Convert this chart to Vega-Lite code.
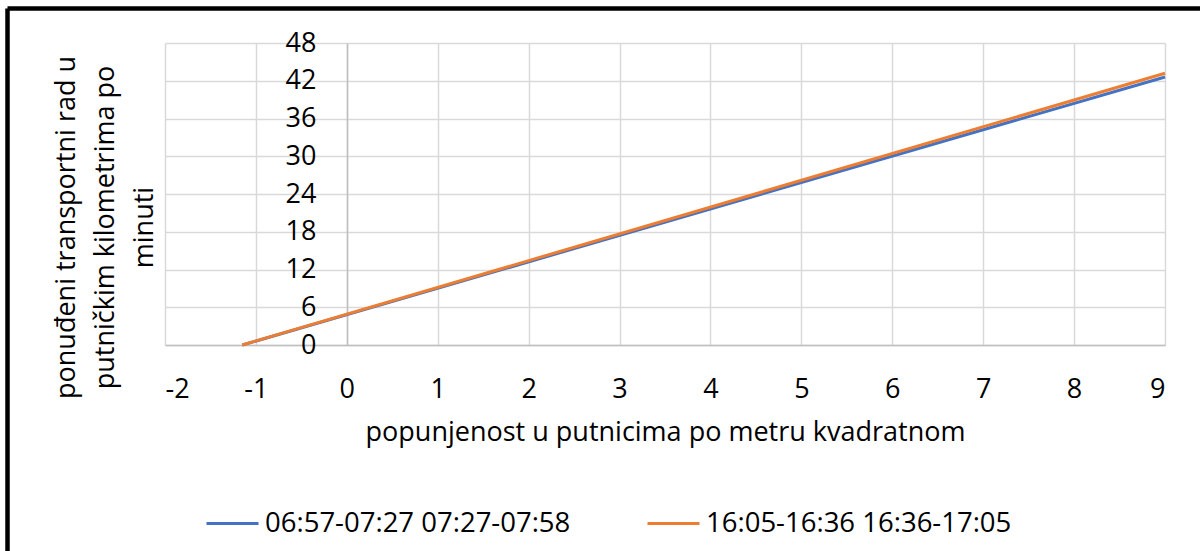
{
  "$schema": "https://vega.github.io/schema/vega-lite/v6.json",
  "width": 1000,
  "height": 302,
  "autosize": {"type": "none"},
  "padding": {"left": 165, "top": 43, "right": 35, "bottom": 206},
  "background": "white",
  "resolve": {"axis": {"x": "independent", "y": "independent"}},
  "layer": [
    {
      "data": {
        "values": [
          {"x": -1.15, "y": 0, "series": "06:57-07:27 07:27-07:58"},
          {"x": 9, "y": 42.6, "series": "06:57-07:27 07:27-07:58"},
          {"x": -1.15, "y": 0, "series": "16:05-16:36 16:36-17:05"},
          {"x": 9, "y": 43.2, "series": "16:05-16:36 16:36-17:05"}
        ]
      },
      "mark": {"type": "line", "strokeWidth": 3, "clip": false},
      "encoding": {
        "x": {
          "field": "x",
          "type": "quantitative",
          "scale": {"domain": [-2, 9], "nice": false, "zero": false},
          "axis": {
            "values": [-2, -1, 0, 1, 2, 3, 4, 5, 6, 7, 8, 9],
            "labelExpr": "'' + datum.value",
            "labelOverlap": false,
            "title": "popunjenost u putnicima po metru kvadratnom",
            "ticks": false,
            "domainColor": "#bfbfbf",
            "domainWidth": 1.5,
            "labelPadding": 31,
            "titleBaseline": "alphabetic",
            "titleY": 95
          }
        },
        "y": {
          "field": "y",
          "type": "quantitative",
          "scale": {"domain": [0, 48], "nice": false, "zero": false},
          "axis": {
            "values": [0, 6, 12, 18, 24, 30, 36, 42, 48],
            "labelOverlap": false,
            "offset": -182,
            "ticks": false,
            "domainColor": "#bfbfbf",
            "domainWidth": 1.5,
            "labelPadding": 31,
            "title": ["ponuđeni transportni rad u", "putničkim kilometrima po", "minuti"],
            "titleAngle": -90,
            "titleAlign": "center",
            "titleBaseline": "middle",
            "titleLineHeight": 39,
            "titleX": -281,
            "titleY": 184
          }
        },
        "color": {
          "field": "series",
          "type": "nominal",
          "scale": {"range": ["#4472C4", "#ED7D31"]},
          "legend": {
            "title": null,
            "orient": "none",
            "legendX": 40,
            "legendY": 453,
            "direction": "horizontal",
            "symbolType": "stroke",
            "symbolSize": 2704,
            "symbolStrokeWidth": 3,
            "labelFontSize": 27.5,
            "labelLimit": 0,
            "labelOffset": 5,
            "columnPadding": 70,
            "padding": 0
          }
        }
      }
    },
    {
      "data": {"values": [{}]},
      "mark": {"type": "rule", "color": "#000000", "strokeWidth": 4.5, "clip": false},
      "encoding": {
        "x": {"datum": -3.7325, "axis": null},
        "y": {"datum": -40, "axis": null},
        "y2": {"datum": 53.48}
      }
    },
    {
      "data": {"values": [{}]},
      "mark": {"type": "rule", "color": "#000000", "strokeWidth": 4.5, "clip": false},
      "encoding": {
        "x": {"datum": -3.7325, "axis": null},
        "x2": {"datum": 10},
        "y": {"datum": 53.48, "axis": null}
      }
    }
  ],
  "config": {
    "font": "Open Sans",
    "axis": {
      "labelFontSize": 27,
      "titleFontSize": 27,
      "labelOverlap": false,
      "labelColor": "#000000",
      "titleColor": "#000000",
      "titleFontWeight": "normal",
      "gridColor": "#d9d9d9",
      "gridWidth": 1.5
    },
    "legend": {"labelColor": "#000000"},
    "view": {"stroke": null}
  }
}
